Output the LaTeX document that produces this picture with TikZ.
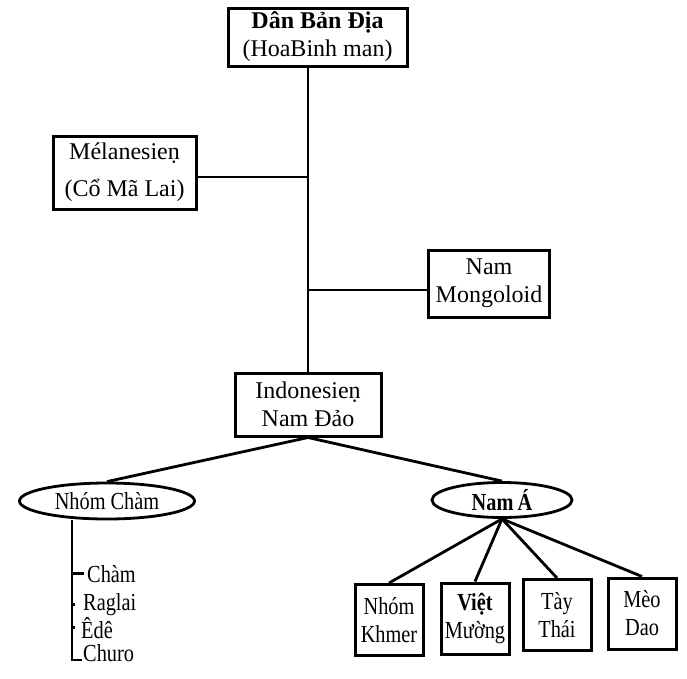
\documentclass[tikz,border=0pt]{standalone}
\usepackage{fontspec}
\setmainfont{Liberation Serif}
\newfontfamily\narrowfont[FakeStretch=0.83]{Liberation Serif}
\usetikzlibrary{shapes.geometric}
\begin{document}
\begin{tikzpicture}[x=1pt,y=-1pt,
    box/.style={draw,line width=3pt,inner sep=0pt,align=center,font=\fontsize{24}{28}\selectfont},
    smallbox/.style={box,minimum width=68,minimum height=71,font=\narrowfont\fontsize{24.5}{28}\selectfont},
    oval/.style={draw,ellipse,line width=2.8pt,inner sep=0pt,font=\narrowfont\fontsize{24.5}{28}\selectfont},
    item/.style={inner sep=0pt,font=\narrowfont\fontsize{24.5}{28}\selectfont},
    link/.style={line width=2.8pt}]
    \useasboundingbox (0,0) rectangle (687,678);
    % boxes of the main line
    \node[box,minimum width=179,minimum height=58] (danbandia) at (317.5,37) {\textbf{Dân Bản Địa}\\(HoaBinh man)};
    \node[box,minimum width=143,minimum height=73] (melanesien) at (124.5,172.5) {Mélanesieṇ\\[9pt](Cổ Mã Lai)};
    \node[box,minimum width=121,minimum height=67] (mongoloid) at (489,283.5) {Nam\\Mongoloid};
    \node[box,minimum width=146,minimum height=63] (indonesien) at (308,404.5) {Indonesieṇ\\Nam Đảo};
    % the two groups
    \node[oval,minimum width=175,minimum height=36] (nhomcham) at (107,501) {Nhóm Chàm};
    \node[oval,minimum width=140,minimum height=35] (nama) at (502,500) {\textbf{Nam\,Á}};
    \node[smallbox] (khmer) at (389,620) {Nhóm\\Khmer};
    \node[smallbox] (vietmuong) at (475,618.5) {\textbf{Việt}\\Mường};
    \node[smallbox] (taythai) at (557,615) {Tày\\Thái};
    \node[smallbox] (meodao) at (642,613.5) {Mèo\\Dao};
    \node[item,anchor=base west] (cham) at (87,582) {Chàm};
    \node[item,anchor=base west] (raglai) at (83,610) {Raglai};
    \node[item,anchor=base west] (ede) at (81,638) {Êdê};
    \node[item,anchor=base west] (churo) at (83,661) {Churo};
    \coordinate (chambus) at (72,520);

    \draw[link] (indonesien.north) -- (indonesien.north |- danbandia.south);
    \draw[link] ([yshift=-4.5pt]melanesien.east) -- ([yshift=-4.5pt]melanesien.east -| indonesien.north);
    \draw[link] ([yshift=-6.5pt]mongoloid.west) -- ([yshift=-6.5pt]mongoloid.west -| indonesien.north);
    \draw[link] (indonesien.south) -- (nhomcham.north);
    \draw[link] (indonesien.south) -- (nama.north);
    \foreach \leaf in {khmer,vietmuong,taythai,meodao}
        \draw[link] (nama.south) -- (\leaf.north);
    \draw[link] (chambus) |- ([xshift=-1pt,yshift=1pt]churo.base west);
    \draw[link] (chambus |- cham.west) -- ([xshift=-3pt]cham.west);
    \draw[link] (chambus |- raglai.west) -- +(3,0);
    \draw[link] (chambus |- ede.west) -- +(3,0);
\end{tikzpicture}
\end{document}
